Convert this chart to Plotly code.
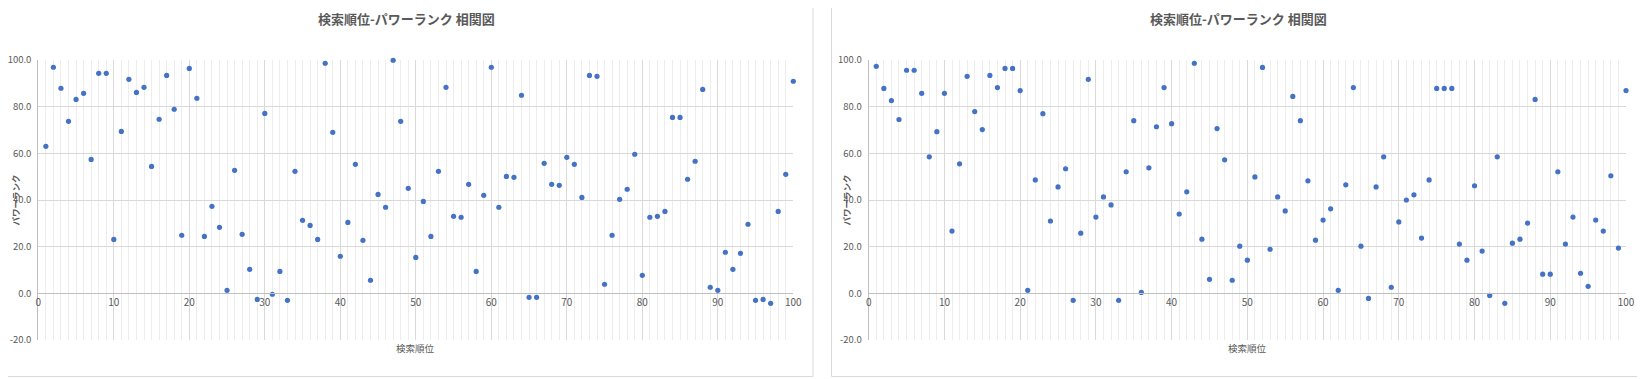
import plotly.graph_objects as go
from plotly.subplots import make_subplots

# The page keeps an 8px body margin, so the figure starts at (8, 8) of the
# 1645x379 window; reference pixel positions are mapped into the figure.
PAGE_W, PAGE_H = 1645, 379
OFF = 8
W, H = PAGE_W - OFF, PAGE_H - OFF

chart_title = "検索順位-パワーランク 相関図"
x_title = "検索順位"
y_title = "パワーランク"

search_rank = list(range(1, 101))

power_rank_left = [
    63.0, 96.9, 87.9, 73.7, 83.1, 85.7, 57.4, 94.3, 94.3, 23.1,
    69.4, 91.7, 86.1, 88.3, 54.4, 74.6, 93.4, 78.9, 24.9, 96.4,
    83.6, 24.4, 37.3, 28.3, 1.3, 52.7, 25.3, 10.3, -2.6, 77.1,
    -0.4, 9.4, -3.0, 52.3, 31.3, 29.1, 23.1, 98.6, 69.0, 15.9,
    30.4, 55.3, 22.7, 5.6, 42.4, 36.9, 99.9, 73.7, 45.0, 15.4,
    39.4, 24.4, 52.3, 88.3, 33.0, 32.6, 46.7, 9.4, 42.0, 96.9,
    36.9, 50.1, 49.7, 84.9, -1.7, -1.7, 55.7, 46.7, 46.3, 58.3,
    55.3, 41.1, 93.4, 93.0, 3.9, 24.9, 40.3, 44.6, 59.6, 7.7,
    32.6, 33.0, 35.1, 75.4, 75.4, 48.9, 56.6, 87.4, 2.6, 1.3,
    17.6, 10.3, 17.1, 29.6, -3.0, -2.6, -4.3, 35.1, 51.0, 90.9,
]

power_rank_right = [
    97.3, 87.8, 82.6, 74.5, 95.6, 95.6, 85.7, 58.5, 69.3, 85.7,
    26.7, 55.5, 93.0, 77.9, 70.2, 93.4, 88.2, 96.4, 96.4, 86.9,
    1.3, 48.6, 77.0, 31.0, 45.6, 53.4, -3.0, 25.8, 91.7, 32.7,
    41.3, 37.9, -3.0, 52.1, 74.0, 0.4, 53.8, 71.4, 88.2, 72.7,
    34.0, 43.5, 98.6, 23.2, 6.0, 70.6, 57.2, 5.6, 20.2, 14.2,
    49.9, 96.8, 18.9, 41.3, 35.3, 84.4, 74.0, 48.2, 22.8, 31.4,
    36.2, 1.3, 46.5, 88.2, 20.2, -2.2, 45.6, 58.5, 2.6, 30.6,
    40.0, 42.2, 23.7, 48.6, 87.8, 87.8, 87.8, 21.1, 14.2, 46.1,
    18.1, -0.9, 58.5, -4.3, 21.5, 23.2, 30.1, 83.1, 8.2, 8.2,
    52.1, 21.1, 32.7, 8.6, 3.0, 31.4, 26.7, 50.4, 19.4, 86.9,
]

x_ticks = [0, 10, 20, 30, 40, 50, 60, 70, 80, 90, 100]
y_ticks = [-20, 0, 20, 40, 60, 80, 100]
y_tick_labels = ["-20.0", "0.0", "20.0", "40.0", "60.0", "80.0", "100.0"]

FONT = "Noto Sans CJK JP"
GREY = "#595959"
MARKER = "#4472C4"

fig = make_subplots(rows=1, cols=2)

for col, vals in [(1, power_rank_left), (2, power_rank_right)]:
    fig.add_trace(
        go.Scatter(
            x=search_rank, y=vals, mode="markers",
            marker=dict(color=MARKER, size=5.2, line=dict(width=0)),
            cliponaxis=False, showlegend=False,
        ),
        row=1, col=col,
    )

def px_x(p):
    return (p - OFF) / W

def px_y(p):
    return 1 - (p - OFF) / H

plot_top, plot_bot = 60, 340
zero_y = 293.3
domains = [(38.3, 793.3), (868.7, 1626.0)]
boxes = [(0.5, 813.0), (831.5, 1644.5)]

for i, (dx0, dx1) in enumerate(domains):
    xa = "xaxis" if i == 0 else "xaxis2"
    ya = "yaxis" if i == 0 else "yaxis2"
    fig.layout[xa].update(
        domain=[px_x(dx0), px_x(dx1)], automargin=False,
        range=[0, 100], tickvals=x_ticks, showgrid=True, gridcolor="#D9D9D9", gridwidth=1,
        minor=dict(dtick=1, showgrid=True, gridcolor="#EDEDED", gridwidth=1),
        zeroline=False, showline=True, linecolor="#BFBFBF", linewidth=1,
        anchor="free", position=px_y(zero_y),
        tickfont=dict(family=FONT, size=10, color=GREY), ticks="",
        fixedrange=True,
    )
    fig.layout[ya].update(
        domain=[px_y(plot_bot), px_y(plot_top)], automargin=False,
        range=[-20, 100], tickvals=y_ticks, ticktext=y_tick_labels,
        showgrid=True, gridcolor="#D9D9D9", gridwidth=1, zeroline=False,
        showline=True, linecolor="#BFBFBF", linewidth=1,
        tickfont=dict(family=FONT, size=9.5, color=GREY), ticks="",
        ticklabelstandoff=4, fixedrange=True,
    )
    bx0, bx1 = boxes[i]
    fig.add_shape(type="rect", xref="paper", yref="paper",
                  x0=px_x(bx0), x1=px_x(bx1), y0=px_y(376.5), y1=px_y(0.5),
                  line=dict(color="#D9D9D9", width=1), layer="below")
    fig.add_annotation(xref="paper", yref="paper", x=px_x((bx0 + bx1) / 2), y=px_y(18),
                       text="<b>" + chart_title + "</b>", showarrow=False,
                       font=dict(family=FONT, size=13, color=GREY), xanchor="center", yanchor="middle")
    fig.add_annotation(xref="paper", yref="paper", x=px_x((dx0 + dx1) / 2), y=px_y(348),
                       text=x_title, showarrow=False,
                       font=dict(family=FONT, size=9.5, color=GREY), xanchor="center", yanchor="middle")
    fig.add_annotation(xref="paper", yref="paper", x=px_x(bx0 + 14), y=px_y(200),
                       text="<b>" + y_title + "</b>", showarrow=False, textangle=-90,
                       font=dict(family=FONT, size=8.5, color=GREY), xanchor="center", yanchor="middle")

fig.update_layout(
    template="none",
    width=W, height=H, margin=dict(l=0, r=0, t=0, b=0, pad=0), autosize=False,
    paper_bgcolor="white", plot_bgcolor="white",
    font=dict(family=FONT, color=GREY),
)

fig.write_html("out.html", config={"displayModeBar": False})
